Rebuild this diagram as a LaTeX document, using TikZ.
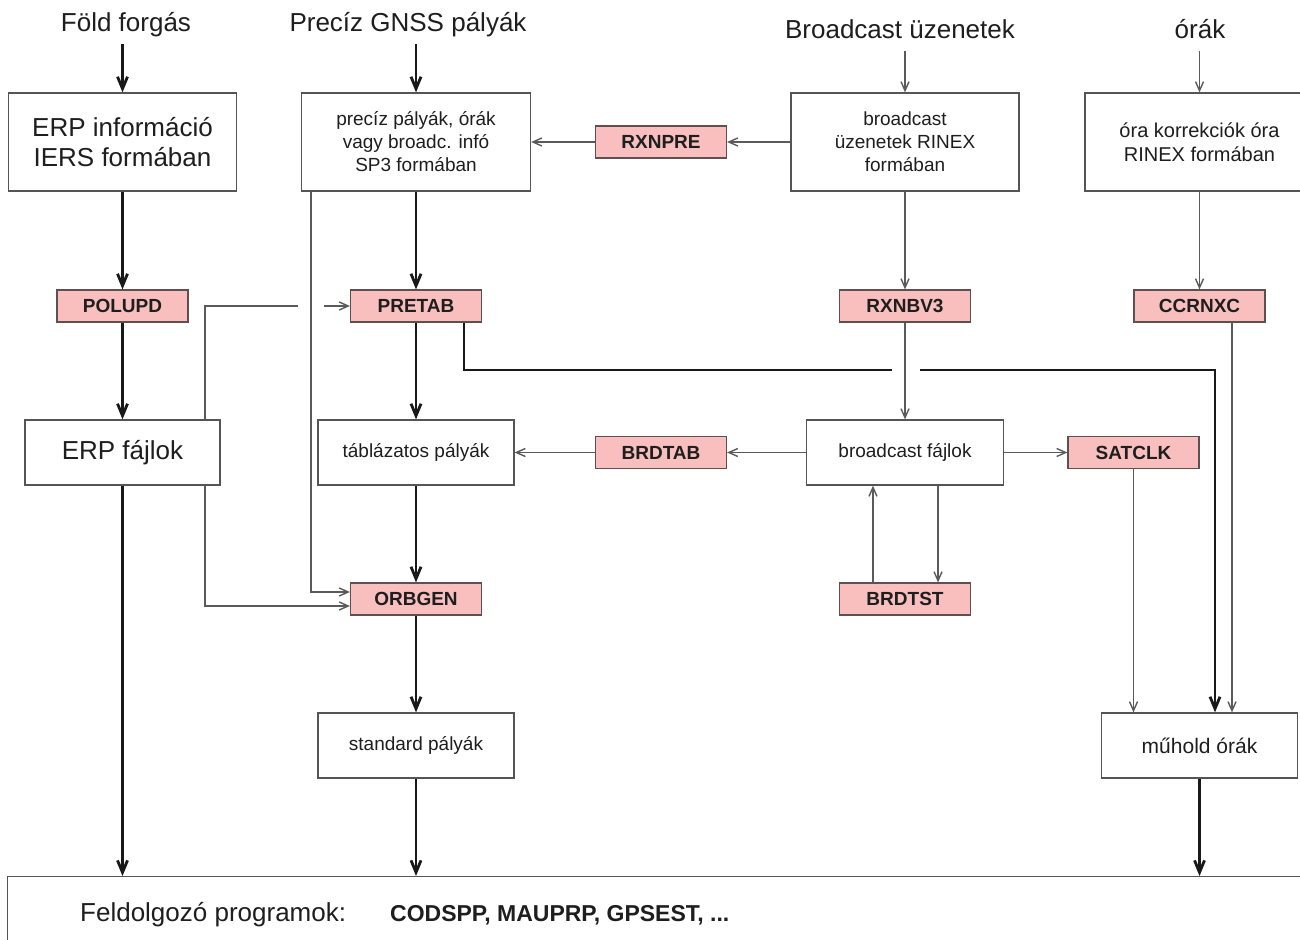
\documentclass[tikz,border=0pt]{standalone}
\usepackage{fontspec}
\setmainfont{Liberation Sans}
\usetikzlibrary{arrows.meta,calc}

\definecolor{ink}{RGB}{30,30,30}
\definecolor{frame}{RGB}{85,85,85}
\definecolor{progfill}{RGB}{249,191,191}
\definecolor{progline}{RGB}{95,80,80}
\definecolor{thinwire}{RGB}{90,90,90}
\definecolor{thickwire}{RGB}{25,25,25}

\begin{document}
\begin{tikzpicture}[x=1pt,y=-1pt,
  toplbl/.style={anchor=base,inner sep=3pt,text depth=9pt,text=ink,
    font=\fontsize{26}{30}\selectfont},
  bigbox/.style={draw=frame,line width=1.3pt,fill=white,inner sep=0pt,
    align=center,text=ink,font=\fontsize{26}{30}\selectfont},
  filebox/.style={draw=frame,line width=1.3pt,fill=white,inner sep=0pt,
    align=center,text=ink,font=\fontsize{19}{23}\selectfont},
  tall/.style={minimum width=229pt,minimum height=98pt},
  flat/.style={minimum width=196pt,minimum height=65pt},
  prog/.style={draw=progline,line width=1.2pt,fill=progfill,inner sep=0pt,
    minimum width=131pt,minimum height=32pt,text=ink,
    font=\bfseries\fontsize{19}{23}\selectfont},
  thinline/.style={draw=thinwire,line width=1.4pt},
  thinarr/.style={thinline,-{Straight Barb[length=9pt,width=8pt]}},
  thickline/.style={draw=thickwire,line width=2.8pt},
  thickarr/.style={thickline,-{Straight Barb[length=12pt,width=10pt]}},
]
\clip (0,0) rectangle (1300,939);
\fill[white] (0,0) rectangle (1300,939);

% source labels
\node[toplbl] (lblfold) at (126,32) {Föld forgás};
\node[toplbl] (lblprec) at (408,32) {Precíz GNSS pályák};
\node[toplbl] (lblbrdc) at (900,39) {Broadcast üzenetek};
\node[toplbl] (lblclk)  at (1200,39) {órák};

% input files
\node[bigbox,tall,minimum width=228pt] (erpinfo) at (122.5,142) {ERP információ\\IERS formában};
\node[filebox,tall] (precise) at (416,142) {precíz pályák, órák\\vagy broadc. infó\\SP3 formában};
\node[filebox,tall,minimum width=228pt] (brdrnx) at (905,142) {broadcast\\üzenetek RINEX\\formában};
\node[filebox,tall,font=\fontsize{20}{24}\selectfont] (clkrnx) at (1199.5,142) {óra korrekciók óra\\RINEX formában};

% conversion programs
\node[prog] (rxnpre) at (661,142) {RXNPRE};
\node[prog] (polupd) at (122.5,306) {POLUPD};
\node[prog] (pretab) at (416,306) {PRETAB};
\node[prog] (rxnbv3) at (905,306) {RXNBV3};
\node[prog] (ccrnxc) at (1199.5,306) {CCRNXC};

% intermediate files
\node[bigbox,flat,minimum width=195pt] (erpfiles) at (122.5,452.5) {ERP fájlok};
\node[filebox,flat] (tabular) at (416,452.5) {táblázatos pályák};
\node[prog] (brdtab) at (661,452.5) {BRDTAB};
\node[filebox,flat,minimum width=197pt] (brdfiles) at (905,452.5) {broadcast fájlok};
\node[prog] (satclk) at (1133.5,452.5) {SATCLK};
\node[prog] (orbgen) at (416,599) {ORBGEN};
\node[prog] (brdtst) at (905,599) {BRDTST};

% products
\node[filebox,flat] (standard) at (416,745.5) {standard pályák};
\node[filebox,flat,font=\fontsize{21}{25}\selectfont] (satclocks) at (1199.5,745.5) {műhold órák};

% processing programs
\node[draw=frame,line width=1.3pt,fill=white,anchor=north west,inner sep=0pt,
  minimum width=1320pt,minimum height=90pt] (proc) at (7,876) {};
\node[anchor=base west,inner sep=0pt,text=ink,font=\fontsize{26}{30}\selectfont]
  (proclbl) at (80,921) {Feldolgozó programok:};
\node[anchor=base west,inner sep=0pt,text=ink,font=\bfseries\fontsize{23}{27}\selectfont]
  (proclist) at (390,921) {CODSPP, MAUPRP, GPSEST, ...};

% inputs into the first files
\draw[thickarr] (lblfold.south -| erpinfo.north) -- (erpinfo.north);
\draw[thickarr] (lblprec.south -| precise.north) -- (precise.north);
\draw[thinarr]  (lblbrdc.south -| brdrnx.north) -- (brdrnx.north);
\draw[thinarr]  (lblclk.south -| clkrnx.north) -- (clkrnx.north);

% broadcast to SP3
\draw[thinarr] (brdrnx.west) -- (rxnpre.east);
\draw[thinarr] (rxnpre.west) -- (precise.east);

% ERP chain
\draw[thickarr] (erpinfo.south) -- (polupd.north);
\draw[thickarr] (polupd.south) -- (erpfiles.north);
\draw[thickarr] (erpfiles.south) -- (erpfiles.south |- proc.north);

% orbit chain
\draw[thickarr] (precise.south) -- (pretab.north);
\draw[thickarr] (pretab.south) -- (tabular.north);
\draw[thickarr] (tabular.south) -- (orbgen.north);
\draw[thickarr] (orbgen.south) -- (standard.north);
\draw[thickarr] (standard.south) -- (standard.south |- proc.north);

% SP3 file straight into ORBGEN
\draw[thinarr] ($(precise.south)+(-105,0)$) |- ($(orbgen.west)+(0,-7)$);

% ERP files into PRETAB (jumping the SP3 line) and ORBGEN
\coordinate (erpgapL) at (298,306);
\coordinate (erpgapR) at (324,306);
\draw[thinline] ($(erpfiles.north)+(82.5,0)$) |- (erpgapL);
\draw[thinarr] (erpgapR) -- (pretab.west);
\draw[thinarr] ($(erpfiles.south)+(82.5,0)$) |- ($(orbgen.west)+(0,7)$);

% precise clocks from PRETAB (jumping the RXNBV3 line)
\coordinate (clkgapL) at (892,370);
\coordinate (clkgapR) at (920,370);
\draw[thickline] ($(pretab.south)+(48,0)$) |- (clkgapL);
\draw[thickarr] (clkgapR) -| ($(satclocks.north)+(15.5,0)$);

% broadcast chain
\draw[thinarr] (brdrnx.south) -- (rxnbv3.north);
\draw[thinarr] (rxnbv3.south) -- (brdfiles.north);
\draw[thinarr] (brdfiles.west) -- (brdtab.east);
\draw[thinarr] (brdtab.west) -- (tabular.east);
\draw[thinarr] (brdfiles.east) -- (satclk.west);
\draw[thinarr] ($(brdfiles.south)+(33,0)$) -- ($(brdtst.north)+(33,0)$);
\draw[thinarr] ($(brdtst.north)+(-32,0)$) -- ($(brdfiles.south)+(-32,0)$);

% clock chain
\draw[thinarr] (clkrnx.south) -- (ccrnxc.north);
\draw[thinarr] ($(ccrnxc.south)+(32.5,0)$) -- ($(satclocks.north)+(32.5,0)$);
\draw[thinarr] (satclk.south) -- (satclk.south |- satclocks.north);
\draw[thickarr] (satclocks.south) -- (satclocks.south |- proc.north);
\end{tikzpicture}
\end{document}
